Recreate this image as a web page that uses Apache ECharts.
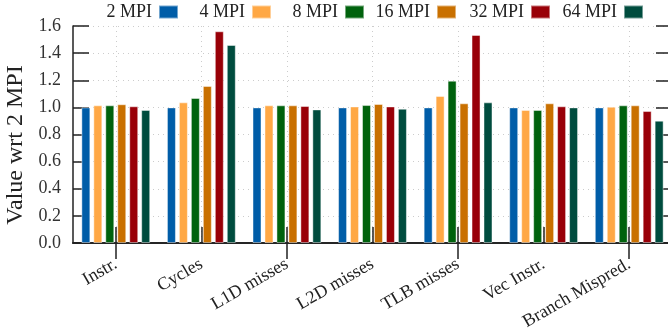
<!DOCTYPE html>
<html>
<head>
<meta charset="utf-8">
<script src="https://cdn.jsdelivr.net/npm/echarts@6/dist/echarts.min.js"></script>
<style>html,body{margin:0;padding:0;background:#fff;}#c{width:668px;height:333px;}</style>
</head>
<body>
<div id="c"></div>
<script>
const categories = ['Instr.', 'Cycles', 'L1D misses', 'L2D misses', 'TLB misses', 'Vec Instr.', 'Branch Mispred.'];
const seriesNames = ['2 MPI', '4 MPI', '8 MPI', '16 MPI', '32 MPI', '64 MPI'];
const mpi2  = [1.000, 1.000, 1.000, 1.000, 1.000, 1.000, 1.000];
const mpi4  = [1.015, 1.037, 1.015, 1.007, 1.084, 0.981, 1.005];
const mpi8  = [1.015, 1.069, 1.015, 1.017, 1.197, 0.981, 1.015];
const mpi16 = [1.023, 1.158, 1.015, 1.025, 1.030, 1.030, 1.015];
const mpi32 = [1.008, 1.561, 1.010, 1.007, 1.534, 1.008, 0.973];
const mpi64 = [0.981, 1.460, 0.985, 0.990, 1.037, 1.000, 0.902];
const yTicks = ['0.0','0.2','0.4','0.6','0.8','1.0','1.2','1.4','1.6'];

const values = [mpi2, mpi4, mpi8, mpi16, mpi32, mpi64];
const colors = ['#005da8', '#ffa845', '#00620d', '#c97000', '#990008', '#004c3e'];
const legendRight = [489, 396, 303, 211, 117, 24];
const FONT = '"Liberation Serif", "DejaVu Serif", serif';

const chart = echarts.init(document.getElementById('c'), null, {renderer: 'canvas'});
const legends = seriesNames.map((n, i) => ({
  data: [n], right: legendRight[i], top: 3, padding: 0, align: 'right',
  itemWidth: 19, itemHeight: 13, icon: 'rect', selectedMode: false,
  textStyle: {fontFamily: FONT, fontSize: 18, color: '#222', padding: [0, 2, 0, 0]}
}));
const option = {
  animation: false,
  color: colors,
  legend: legends,
  grid: {left: 73, top: 26, width: 599, height: 217, outerBoundsMode: 'none', containLabel: false},
  xAxis: [{
    type: 'category', data: categories, position: 'bottom',
    axisLine: {show: true, lineStyle: {color: '#333', width: 2}},
    axisTick: {show: true, inside: true, length: 16, alignWithLabel: true, lineStyle: {color: '#222', width: 1.5}},
    splitLine: {show: true, alignWithLabel: true, lineStyle: {color: '#ccc', type: [1, 4], width: 1}},
    axisLabel: {interval: 0, rotate: 30, margin: 20, fontFamily: FONT, fontSize: 18, color: '#222'}
  }, {
    type: 'category', data: categories, position: 'top',
    axisLine: {show: true, lineStyle: {color: '#222', width: 1.5}},
    axisTick: {show: true, inside: true, length: 16, alignWithLabel: true, lineStyle: {color: '#222', width: 1.5}},
    axisLabel: {show: false}, splitLine: {show: false}
  }],
  yAxis: [{
    type: 'value', min: 0, max: 1.6, interval: 0.2, position: 'left',
    name: 'Value wrt 2 MPI', nameLocation: 'middle', nameGap: 39, nameRotate: 90,
    nameTextStyle: {fontFamily: FONT, fontSize: 24, color: '#222', padding: [0, 21, 0, 0]},
    axisLine: {show: true, lineStyle: {color: '#222', width: 1.5}},
    axisTick: {show: true, inside: true, length: 16, lineStyle: {color: '#222', width: 1.5}},
    axisLabel: {margin: 12, fontFamily: FONT, fontSize: 18, color: '#333',
      formatter: v => yTicks[Math.round(v / 0.2)]},
    splitLine: {show: true, lineStyle: {color: '#ccc', type: [1, 4], width: 1}}
  }, {
    type: 'value', min: 0, max: 1.6, interval: 0.2, position: 'right',
    axisLine: {show: true, lineStyle: {color: '#222', width: 1.5}},
    axisTick: {show: true, inside: true, length: 16, lineStyle: {color: '#222', width: 1.5}},
    axisLabel: {show: false}, splitLine: {show: false}
  }],
  series: seriesNames.map((n, i) => ({
    name: n, type: 'bar', xAxisIndex: 0, yAxisIndex: 0,
    data: values[i], barWidth: 9, barGap: '33%',
    itemStyle: {color: colors[i], borderColor: 'rgba(255,255,255,0.45)', borderWidth: 1}
  }))
};
chart.setOption(option);
</script>
</body>
</html>
